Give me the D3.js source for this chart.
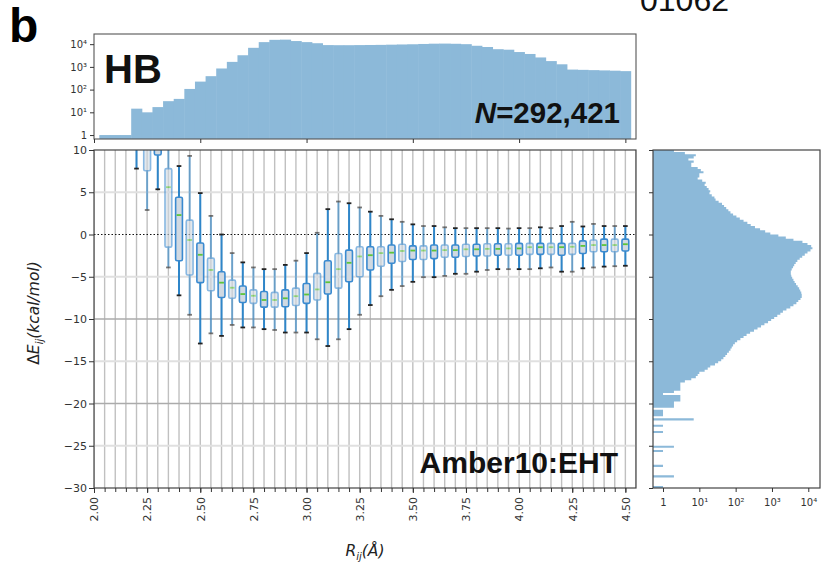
<!DOCTYPE html>
<html><head><meta charset="utf-8">
<script src="https://cdn.jsdelivr.net/npm/d3@7"></script>
<style>body{margin:0;background:#fff}svg{display:block}</style>
</head><body>
<svg id="c" width="826" height="570"></svg>
<script>
// ---------- DATA ----------
const boxPositions = [2.20,2.25,2.30,2.35,2.40,2.45,2.50,2.55,2.60,2.65,2.70,2.75,2.80,2.85,2.90,2.95,3.00,3.05,3.10,3.15,3.20,3.25,3.30,3.35,3.40,3.45,3.50,3.55,3.60,3.65,3.70,3.75,3.80,3.85,3.90,3.95,4.00,4.05,4.10,4.15,4.20,4.25,4.30,4.35,4.40,4.45,4.50];
const whiskerLow = [7.8,2.9,5.35,-3.9,-7.2,-9.5,-12.9,-11.7,-12.0,-10.7,-11.0,-11.0,-11.2,-11.3,-11.6,-11.6,-11.6,-12.4,-13.2,-12.4,-11.2,-9.5,-8.35,-7.3,-6.55,-6.1,-5.6,-5.05,-5.05,-4.9,-4.65,-4.65,-4.4,-4.2,-4.1,-4.1,-4.1,-4.1,-4.0,-3.9,-4.4,-4.4,-4.0,-3.9,-3.8,-3.75,-3.7];
const q1 = [12.0,7.55,9.4,-1.5,-3.1,-4.8,-5.7,-6.65,-7.45,-7.55,-8.05,-8.15,-8.6,-8.6,-8.55,-8.4,-8.15,-7.75,-7.05,-6.35,-5.6,-5.0,-4.2,-3.75,-3.4,-3.2,-2.95,-2.95,-2.85,-2.7,-2.7,-2.6,-2.55,-2.55,-2.45,-2.45,-2.45,-2.35,-2.35,-2.35,-2.45,-2.35,-2.25,-2.05,-2.05,-2.05,-1.95];
const medians = [14.0,11.0,10.6,5.6,2.3,-0.65,-2.4,-4.2,-5.7,-6.3,-7.05,-7.25,-7.75,-7.75,-7.55,-7.3,-7.1,-6.5,-5.65,-4.1,-3.35,-2.6,-2.45,-2.2,-2.15,-1.95,-1.9,-1.9,-1.9,-1.85,-1.85,-1.75,-1.75,-1.7,-1.7,-1.65,-1.65,-1.5,-1.5,-1.5,-1.5,-1.45,-1.35,-1.25,-1.25,-1.25,-1.15];
const q3 = [16.0,14.0,12.5,7.8,4.4,1.7,-1.0,-2.8,-4.4,-5.4,-6.1,-6.55,-6.75,-6.85,-6.55,-6.35,-5.8,-4.6,-3.1,-2.25,-1.85,-1.45,-1.45,-1.45,-1.25,-1.15,-1.35,-1.35,-1.25,-1.25,-1.25,-1.15,-1.15,-1.1,-1.1,-1.1,-1.05,-1.05,-1.05,-1.05,-1.05,-1.05,-0.75,-0.65,-0.55,-0.55,-0.55];
const whiskerHigh = [20.0,20.0,18.0,14.0,8.1,9.3,4.9,2.2,0.0,-2.2,-3.3,-3.9,-4.1,-4.1,-3.6,-3.1,-2.2,0.2,3.0,3.9,3.7,3.2,2.7,2.2,1.8,1.5,1.2,1.0,1.0,0.85,0.75,0.75,0.75,0.75,0.75,0.7,0.75,0.75,0.85,0.75,1.0,1.5,0.95,1.25,1.0,1.0,1.0];

// top histogram: counts per distance bin (centres, width 0.05 Å)
const distBinCenters = [2.05,2.10,2.15,2.20,2.25,2.30,2.35,2.40,2.45,2.50,2.55,2.60,2.65,2.70,2.75,2.80,2.85,2.90,2.95,3.00,3.05,3.10,3.15,3.20,3.25,3.30,3.35,3.40,3.45,3.50,3.55,3.60,3.65,3.70,3.75,3.80,3.85,3.90,3.95,4.00,4.05,4.10,4.15,4.20,4.25,4.30,4.35,4.40,4.45,4.50];
const distCounts = [1,1,1,14.5,10,17,31,39,107,225,390,850,1660,3250,6900,12300,15500,15800,13700,12300,11000,9100,9000,9000,9100,9200,9300,9500,9700,9900,10200,10500,10600,10400,10000,8500,7500,6000,5700,4500,3700,2600,1800,1300,760,740,720,700,680,650];

// right histogram: counts per energy bin of 0.25 kcal/mol, from 10 downward to -30
const energyBinTop = 10, energyBinWidth = 0.25;
const energyCounts = [
 2,4,8,7, 5,7,6,6, 9,11,13,10, 10,9,12,15, 14,16,18,20, 19,22,26,28, 34,42,48,55, 63,72,85,105,
 130,165,210,260, 340,470,650,900, 1500,2400,3900,6900, 9500,12000,13000,11500, 9500,8000,6800,5800,
 5000,4500,4100,3800, 3500,3300,3300,3400, 3600,3900,4200,4600, 5100,5600,6000,6400, 6600,6600,6100,5300,
 4700,3900,3200,2500, 2000,1700,1400,1150, 950,780,620,500, 400,320,250,200, 165,135,110,95,
 85,78,72,65, 58,52,46,40, 33,27,20,17, 14,10,9,8, 6,4,3,3, 3,3,2,1, 3,3,3,2, 2,2,0,1,
 1,1,0,7, 0,0,1,0, 0,1,0,0, 0,0,0,0, 2,0,1,0, 0,0,0,0, 0,1,0,0, 0,0,2,0, 0,0,0,1];

const xTickValues = [2.00,2.25,2.50,2.75,3.00,3.25,3.50,3.75,4.00,4.25,4.50];
const yTickValues = [10,5,0,-5,-10,-15,-20,-25,-30];
const logTickValues = [1,10,100,1000,10000];
const logTickLabels = ["1","10¹","10²","10³","10⁴"];

// ---------- LAYOUT ----------
const svg = d3.select("#c");
const M = {l:94, r:636, t:150, b:488};
const T = {t:34, b:139};
const R = {l:653, r:820};

const x = d3.scaleLinear().domain([2.0, 4.55]).range([M.l, M.r]);
const y = d3.scaleLinear().domain([-30, 10]).range([M.b, M.t]);
const yTop = d3.scaleLog().domain([0.67, 28000]).range([T.b, T.t]);
const xR = d3.scaleLog().domain([0.53, 21000]).range([R.l, R.r]);

const tickFont = "'DejaVu Sans', sans-serif";
const boldFont = "'Liberation Sans', Arial, sans-serif";

svg.append("defs").html(`
 <clipPath id="mainClip"><rect x="${M.l}" y="${M.t}" width="${M.r-M.l}" height="${M.b-M.t}"/></clipPath>
 <clipPath id="topClip"><rect x="${M.l}" y="${T.t}" width="${M.r-M.l}" height="${T.b-T.t}"/></clipPath>
 <clipPath id="rClip"><rect x="${R.l}" y="${M.t}" width="${R.r-R.l}" height="${M.b-M.t}"/></clipPath>`);

// ---------- MAIN PANEL ----------
const grid = svg.append("g").attr("clip-path","url(#mainClip)");
const minorX = d3.range(0, 52).map(i => 2.0 + i*0.05);
grid.selectAll("line.vx").data(minorX).join("line")
  .attr("x1", d=>x(d)).attr("x2", d=>x(d)).attr("y1", M.t).attr("y2", M.b)
  .attr("stroke", "#c0c0c0").attr("stroke-width", 1.4);
[-25,-15,-5,5].forEach(v => grid.append("line").attr("x1",M.l).attr("x2",M.r)
  .attr("y1",y(v)).attr("y2",y(v)).attr("stroke","#e0e0e0").attr("stroke-width",2.2));
[-20,-10].forEach(v => grid.append("line").attr("x1",M.l).attr("x2",M.r)
  .attr("y1",y(v)).attr("y2",y(v)).attr("stroke","#ababab").attr("stroke-width",1.4));
grid.append("line").attr("x1",M.l).attr("x2",M.r).attr("y1",y(0)).attr("y2",y(0))
  .attr("stroke","#111").attr("stroke-width",1).attr("stroke-dasharray","1.5,2");

const boxes = svg.append("g").attr("clip-path","url(#mainClip)");
const bw = 0.032, cw = 0.022;
boxPositions.forEach((p, i) => {
  const g = boxes.append("g").attr("opacity", i % 2 ? 0.6 : 1);
  const cx = x(p);
  g.append("line").attr("x1",cx).attr("x2",cx).attr("y1",y(whiskerHigh[i])).attr("y2",y(q3[i]))
    .attr("stroke","#2f86c9").attr("stroke-width",2);
  g.append("line").attr("x1",cx).attr("x2",cx).attr("y1",y(q1[i])).attr("y2",y(whiskerLow[i]))
    .attr("stroke","#2f86c9").attr("stroke-width",2);
  g.append("rect").attr("x", x(p-bw/2)).attr("width", x(p+bw/2)-x(p-bw/2))
    .attr("y", y(q3[i])).attr("height", Math.max(1, y(q1[i])-y(q3[i])))
    .attr("rx",1.5).attr("fill","#d0d9e2").attr("stroke","#3a8ad0").attr("stroke-width",1.6);
  g.append("line").attr("x1", x(p-bw/2)+1).attr("x2", x(p+bw/2)-1).attr("y1",y(medians[i])).attr("y2",y(medians[i]))
    .attr("stroke","#5cc53a").attr("stroke-width",1.8);
  [whiskerLow[i], whiskerHigh[i]].forEach(v => g.append("line")
    .attr("x1", x(p-cw/2)).attr("x2", x(p+cw/2)).attr("y1", y(v)).attr("y2", y(v))
    .attr("stroke","#222").attr("stroke-width",1.8));
});

svg.append("rect").attr("x",M.l).attr("y",M.t).attr("width",M.r-M.l).attr("height",M.b-M.t)
  .attr("fill","none").attr("stroke","#444").attr("stroke-width",1.2);

// axes
const xAxisMinor = svg.append("g").attr("transform",`translate(0,${M.b})`)
  .call(d3.axisBottom(x).tickValues(minorX.filter(d=>d<=4.5001)).tickSize(4).tickFormat(""));
const xAxis = svg.append("g").attr("transform",`translate(0,${M.b})`)
  .call(d3.axisBottom(x).tickValues(xTickValues).tickSize(5).tickFormat(d3.format(".2f")));
xAxis.selectAll("text").attr("transform","rotate(-90)").attr("text-anchor","end")
  .attr("x",-9).attr("y",0).attr("dy","0.35em").attr("font-size",11).attr("font-family",tickFont).attr("fill","#333");
[xAxisMinor, xAxis].forEach(a => { a.select(".domain").remove(); a.selectAll("line").attr("stroke","#333"); });

const yAxis = svg.append("g").attr("transform",`translate(${M.l},0)`)
  .call(d3.axisLeft(y).tickValues(yTickValues).tickSize(5).tickFormat(d3.format("d")));
yAxis.select(".domain").remove();
yAxis.selectAll("line").attr("stroke","#333");
yAxis.selectAll("text").attr("font-size",11).attr("font-family",tickFont).attr("fill","#333").attr("x",-7);

// labels
const yl = svg.append("text").attr("transform","translate(39,313) rotate(-90)")
  .attr("text-anchor","middle").attr("font-family",tickFont).attr("font-size",15.5).attr("fill","#222");
yl.append("tspan").text("Δ");
yl.append("tspan").attr("font-style","italic").text("E");
yl.append("tspan").attr("font-style","italic").attr("font-size",10).attr("dy",4).text("ij");
yl.append("tspan").attr("font-style","italic").attr("dy",-4).text("(kcal/mol)");

const xl = svg.append("text").attr("x",365).attr("y",556).attr("text-anchor","middle")
  .attr("font-family",tickFont).attr("font-size",15.5).attr("fill","#222").attr("font-style","italic");
xl.append("tspan").text("R");
xl.append("tspan").attr("font-size",10).attr("dy",4).text("ij");
xl.append("tspan").attr("dy",-4).text("(Å)");

svg.append("text").attr("x",618).attr("y",473).attr("text-anchor","end")
  .attr("font-family",boldFont).attr("font-weight","bold").attr("font-size",30).attr("fill","#111")
  .text("Amber10:EHT");

// ---------- TOP HISTOGRAM ----------
const th = svg.append("g").attr("clip-path","url(#topClip)");
th.selectAll("rect").data(distBinCenters).join("rect")
  .attr("x", d => x(d-0.025)).attr("width", d => x(d+0.025)-x(d-0.025)+0.5)
  .attr("y", (d,i) => yTop(distCounts[i])).attr("height", (d,i) => T.b - yTop(distCounts[i]))
  .attr("fill","#8cb9d9");
svg.append("rect").attr("x",M.l).attr("y",T.t).attr("width",M.r-M.l).attr("height",T.b-T.t)
  .attr("fill","none").attr("stroke","#555").attr("stroke-width",1.1);
const tya = svg.append("g").attr("transform",`translate(${M.l},0)`)
  .call(d3.axisLeft(yTop).tickValues(logTickValues).tickSize(4).tickFormat((d,i)=>logTickLabels[i]));
tya.select(".domain").remove();
tya.selectAll("line").attr("stroke","#333");
tya.selectAll("text").attr("font-size",10).attr("font-family",tickFont).attr("fill","#333");
const txa = svg.append("g").attr("transform",`translate(0,${T.b})`)
  .call(d3.axisBottom(x).tickValues([2.0,2.5,3.0,3.5,4.0,4.5]).tickSize(4).tickFormat(""));
txa.select(".domain").remove(); txa.selectAll("line").attr("stroke","#333");

svg.append("text").attr("x",104).attr("y",83).attr("font-family",boldFont).attr("font-weight","bold")
  .attr("font-size",40).attr("fill","#111").text("HB");
const nt = svg.append("text").attr("x",620).attr("y",123).attr("text-anchor","end")
  .attr("font-family",boldFont).attr("font-weight","bold").attr("font-size",29.5).attr("fill","#111");
nt.append("tspan").attr("font-style","italic").text("N");
nt.append("tspan").text("=292,421");

// ---------- RIGHT HISTOGRAM (step outline, filled) ----------
const stepPts = [];
energyCounts.forEach((c, i) => {
  const top = energyBinTop - i*energyBinWidth, bot = top - energyBinWidth;
  const xv = c > 0 ? xR(c) : R.l;
  stepPts.push([xv, y(top)], [xv, y(bot)]);
});
const pathPts = [[R.l, y(energyBinTop)], ...stepPts, [R.l, y(energyBinTop - energyCounts.length*energyBinWidth)]];
svg.append("g").attr("clip-path","url(#rClip)").append("path")
  .attr("d", d3.line()(pathPts) + "Z").attr("fill","#8cb9d9");
svg.append("rect").attr("x",R.l).attr("y",M.t).attr("width",R.r-R.l).attr("height",M.b-M.t)
  .attr("fill","none").attr("stroke","#444").attr("stroke-width",1.2);
const rxa = svg.append("g").attr("transform",`translate(0,${M.b})`)
  .call(d3.axisBottom(xR).tickValues(logTickValues).tickSize(4).tickFormat((d,i)=>logTickLabels[i]));
rxa.select(".domain").remove(); rxa.selectAll("line").attr("stroke","#333");
rxa.selectAll("text").attr("font-size",10).attr("font-family",tickFont).attr("fill","#333").attr("dy","1.1em");
const rya = svg.append("g").attr("transform",`translate(${R.l},0)`)
  .call(d3.axisLeft(y).tickValues(yTickValues).tickSize(4).tickFormat(""));
rya.select(".domain").remove(); rya.selectAll("line").attr("stroke","#333");

// ---------- panel letter and stray label (cut at the top edge, as in the reference) ----------
svg.append("text").attr("x",9).attr("y",42).attr("font-family",boldFont).attr("font-weight","bold")
  .attr("font-size",48).attr("fill","#000").text("b");
svg.append("text").attr("x",640).attr("y",11).attr("font-family",boldFont)
  .attr("font-size",32).attr("fill","#111").text("01062");
</script>
</body></html>
